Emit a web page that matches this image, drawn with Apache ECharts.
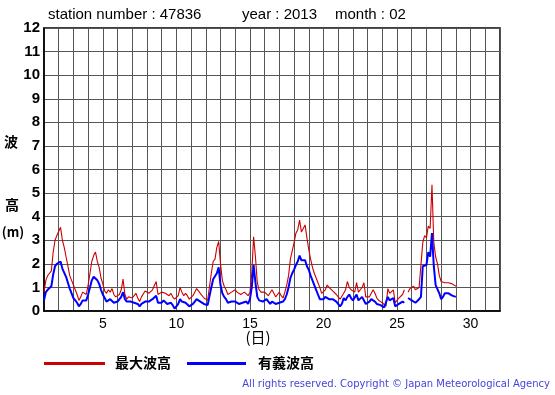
<!DOCTYPE html>
<html><head><meta charset="utf-8">
<script src="https://cdn.jsdelivr.net/npm/echarts@6/dist/echarts.min.js"></script>
<style>html,body{margin:0;padding:0;background:#fff}#c{width:555px;height:395px}</style>
</head><body><div id="c"></div>
<script>
// 3-hourly samples from day 1.000 to day 29.000 (step 0.125 day)
var startDay = 1, stepDay = 0.125;
var yTicks = [0,1,2,3,4,5,6,7,8,9,10,11,12];
var xTickLabels = [5,10,15,20,25,30];
var maxWave = [
0.8,1.3,1.5,1.6,1.7,2.5,3.0,3.2,
3.2,3.55,3.0,2.7,2.3,1.9,1.5,1.3,
1.1,0.9,0.7,0.45,0.6,0.8,0.75,0.7,
1.1,1.6,2.1,2.35,2.5,2.1,1.85,1.4,
1.15,0.85,0.75,0.9,0.8,0.95,0.7,0.6,
0.55,0.7,0.9,1.35,0.7,0.5,0.6,0.65,
0.55,0.6,0.75,0.55,0.4,0.6,0.65,0.85,
0.9,0.75,0.8,0.9,0.85,1.25,0.7,0.75,
0.8,0.85,0.75,0.7,0.65,0.75,0.6,0.5,
0.55,0.65,1.0,0.8,0.65,0.75,0.65,0.5,
0.55,0.65,0.8,0.95,0.85,0.75,0.7,0.55,
0.5,0.45,0.4,1.6,2.1,2.2,2.7,2.95,
2.0,1.3,1.05,0.9,0.7,0.7,0.8,0.85,
0.9,0.8,0.85,0.7,0.65,0.8,0.75,0.65,
0.8,1.6,3.15,2.3,1.2,0.9,0.8,0.75,
0.8,0.75,0.65,0.6,0.9,0.75,0.6,0.7,
0.8,0.65,0.55,0.8,1.1,1.5,2.2,2.55,
2.9,3.3,3.45,3.85,3.35,3.5,3.65,3.1,
2.6,2.2,1.85,1.6,1.4,1.2,1.0,0.75,
0.8,0.9,1.1,1.0,0.95,0.85,0.9,0.7,
0.6,0.5,0.45,0.75,0.9,1.25,1.0,0.9,
0.85,0.8,1.2,0.8,0.9,1.0,1.2,0.6,
0.55,0.6,0.75,0.9,0.75,0.55,0.45,0.4,
0.35,0.3,0.2,0.95,0.75,0.7,0.9,0.35,
0.45,0.55,0.6,0.7,0.9,null,0.8,0.95,
1.0,1.05,0.9,0.95,1.0,1.05,2.9,3.2,
3.1,3.6,3.5,5.35,2.9,2.3,2.0,1.5,
1.25,1.3,1.2,1.15,1.2,1.25,1.15,1.1,
1.05
];
var sigWave = [
0.45,0.8,0.9,0.95,1.05,1.55,1.9,2.0,
1.95,2.1,1.8,1.8,1.45,1.2,0.95,0.75,
0.55,0.45,0.35,0.2,0.3,0.45,0.45,0.45,
0.7,1.0,1.3,1.45,1.5,1.3,1.15,0.9,
0.7,0.55,0.4,0.35,0.5,0.45,0.35,0.35,
0.4,0.45,0.6,0.8,0.5,0.4,0.45,0.4,
0.35,0.35,0.4,0.3,0.2,0.3,0.35,0.4,
0.4,0.4,0.45,0.5,0.5,0.65,0.35,0.35,
0.35,0.45,0.4,0.3,0.3,0.35,0.25,0.1,
0.2,0.3,0.5,0.4,0.35,0.35,0.3,0.2,
0.25,0.3,0.4,0.5,0.45,0.4,0.35,0.3,
0.3,0.25,0.25,1.0,1.35,1.3,1.6,1.85,
1.1,0.75,0.6,0.5,0.35,0.35,0.4,0.4,
0.4,0.35,0.3,0.35,0.35,0.4,0.4,0.3,
0.5,1.0,1.95,1.2,0.6,0.45,0.4,0.4,
0.4,0.5,0.45,0.3,0.4,0.45,0.3,0.25,
0.35,0.35,0.4,0.5,0.7,1.0,1.4,1.6,
1.75,1.95,2.1,2.35,2.15,2.2,2.15,1.9,
1.75,1.5,1.3,1.1,0.9,0.7,0.5,0.45,
0.5,0.6,0.55,0.5,0.45,0.5,0.45,0.4,
0.35,0.2,0.3,0.55,0.45,0.6,0.7,0.55,
0.45,0.45,0.7,0.45,0.5,0.6,0.55,0.3,
0.35,0.4,0.5,0.55,0.4,0.3,0.25,0.25,
0.2,0.15,0.1,0.6,0.45,0.4,0.55,0.2,
0.25,0.3,0.35,0.4,0.35,null,0.55,0.5,
0.45,0.45,0.35,0.3,0.5,0.6,1.9,1.9,
1.95,2.5,2.3,3.3,1.9,1.1,1.05,0.75,
0.5,0.6,0.75,0.7,0.75,0.7,0.65,0.65,
0.6
];
var titleParts = ['station number : 47836','year : 2013','month : 02'];
var legendNames = ['最大波高','有義波高'];
var copyright = 'All rights reserved. Copyright \u00a9 Japan Meteorological Agency';

function toPairs(vals){ return vals.map(function(v,i){ return [startDay + i*stepDay, v]; }); }

var chart = echarts.init(document.getElementById('c'), null, {renderer:'canvas'});
var titleFont = '15px "Liberation Sans", Arial, sans-serif';
var cjkB14 = 'bold 14px "Noto Sans CJK JP", sans-serif';
function txt(x, y, s, font, align, fill){
  return {type:'text', style:{x:x, y:y, text:s, fill:fill||'#000', font:font, textAlign:align||'left', textVerticalAlign:'middle'}};
}
chart.setOption({
  animation:false,
  backgroundColor:'#fff',
  grid:{left:44, right:55, top:28, bottom:84, show:true, borderColor:'#000', borderWidth:1.5, backgroundColor:'transparent'},
  xAxis:{type:'value', min:1, max:32, interval:1,
    axisLine:{show:true, lineStyle:{color:'#000', width:1.5}},
    axisTick:{show:false},
    axisLabel:{color:'#000', fontSize:14, fontFamily:'Liberation Sans', margin:6,
      formatter:function(v){ return xTickLabels.indexOf(v) >= 0 ? String(v) : ''; }},
    splitLine:{show:true, lineStyle:{color:'#555', width:1}}},
  yAxis:{type:'value', min:yTicks[0], max:yTicks[yTicks.length-1], interval:1,
    axisLine:{show:true, lineStyle:{color:'#000', width:1.5}},
    axisTick:{show:false},
    axisLabel:{color:'#000', fontSize:15, fontWeight:'bold', fontFamily:'Liberation Sans', margin:4},
    splitLine:{show:true, lineStyle:{color:'#555', width:1}}},
  series:[
    {name:legendNames[0], type:'line', data:toPairs(maxWave), showSymbol:false, symbol:'none', connectNulls:false,
      lineStyle:{color:'#cc0000', width:1.1}, itemStyle:{color:'#cc0000'}, z:2},
    {name:legendNames[1], type:'line', data:toPairs(sigWave), showSymbol:false, symbol:'none', connectNulls:false,
      lineStyle:{color:'#0000ff', width:2}, itemStyle:{color:'#0000ff'}, z:3}
  ],
  graphic:[
    txt(48, 15, titleParts[0], titleFont),
    txt(242, 15, titleParts[1], titleFont),
    txt(335, 15, titleParts[2], titleFont),
    txt(11, 142, '波', cjkB14, 'center'),
    txt(12, 205, '高', cjkB14, 'center'),
    txt(13, 232, '(m)', 'bold 13px "Noto Sans CJK JP", sans-serif', 'center'),
    txt(258, 337, '(日)', '15px "Noto Sans CJK JP", sans-serif', 'center'),
    {type:'rect', shape:{x:44, y:362, width:61, height:3}, style:{fill:'#cc0000'}},
    txt(115, 363, legendNames[0], cjkB14),
    {type:'rect', shape:{x:187, y:362, width:59, height:3}, style:{fill:'#0000ff'}},
    txt(258, 363, legendNames[1], cjkB14),
    txt(550, 384, copyright, '10px "DejaVu Sans", sans-serif', 'right', '#4444dd')
  ]
});
</script></body></html>
